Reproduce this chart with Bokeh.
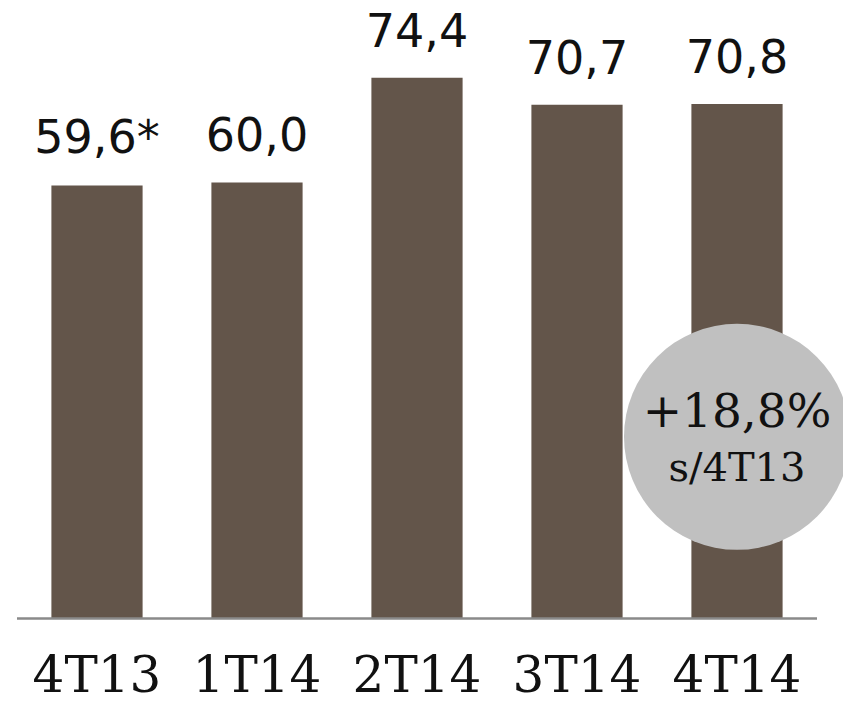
from bokeh.plotting import figure
from bokeh.models import ColumnDataSource, Range1d
from bokeh.core.properties import value
from bokeh.embed import file_html
from bokeh.resources import INLINE

# ---- data ----
categories = ["4T13", "1T14", "2T14", "3T14", "4T14"]
values = [59.6, 60.0, 74.4, 70.7, 70.8]
notes = ["*", "", "", "", ""]
growth_label = "+18,8%"
growth_sub = "s/4T13"

labels = [f"{v:.1f}".replace(".", ",") + n for v, n in zip(values, notes)]
xs = list(range(len(categories)))

src = ColumnDataSource(dict(x=xs, top=values, cat=categories, lab=labels))

W, H = 843, 704
px_per_cat = 160.0
first_center = 96.5
baseline_px = 618.0
px_per_unit = 7.267

p = figure(width=W, height=H, output_backend="svg", toolbar_location=None,
           x_axis_location=None, y_axis_location=None, min_border=0,
           x_range=Range1d(-first_center / px_per_cat, (W - first_center) / px_per_cat),
           y_range=Range1d(-(H - baseline_px) / px_per_unit, baseline_px / px_per_unit))
p.outline_line_color = None
p.xgrid.visible = False
p.ygrid.visible = False
p.background_fill_color = "white"
p.border_fill_color = "white"

BAR = "#63554a"
p.vbar(x="x", top="top", bottom=0, width=0.57, source=src, fill_color=BAR, line_color=None)

# baseline
p.segment(x0=[-0.5], y0=[0], x1=[len(categories) - 0.5], y1=[0],
          line_color="#8a8a8a", line_width=2.5)

SHIFT = -17

# value labels
p.text(x="x", y="top", text="lab", source=src, text_align="center",
       text_baseline="alphabetic", y_offset=-31 + SHIFT,
       text_font=value("DejaVu Sans"), text_font_size="46px", text_color="#111111")

# category labels
p.text(x="x", y=0, text="cat", source=src, text_align="center",
       text_baseline="alphabetic", y_offset=73 + SHIFT,
       text_font=value("DejaVu Serif"), text_font_size="50px", text_color="#111111")

# growth bubble over the last bar
last = len(categories) - 1
p.scatter(x=[last], y=[25.0], marker="circle", size=226,
          fill_color="#c0c0c0", line_color=None)
p.text(x=[last], y=[25.0], text=[growth_label], text_align="center",
       text_baseline="alphabetic", y_offset=-9 + SHIFT,
       text_font=value("DejaVu Serif"), text_font_size="47px", text_color="#111111")
p.text(x=[last], y=[25.0], text=[growth_sub], text_align="center",
       text_baseline="alphabetic", y_offset=47 + SHIFT,
       text_font=value("DejaVu Serif"), text_font_size="40px", text_color="#111111")

open("out.html", "w").write(file_html(p, INLINE))
